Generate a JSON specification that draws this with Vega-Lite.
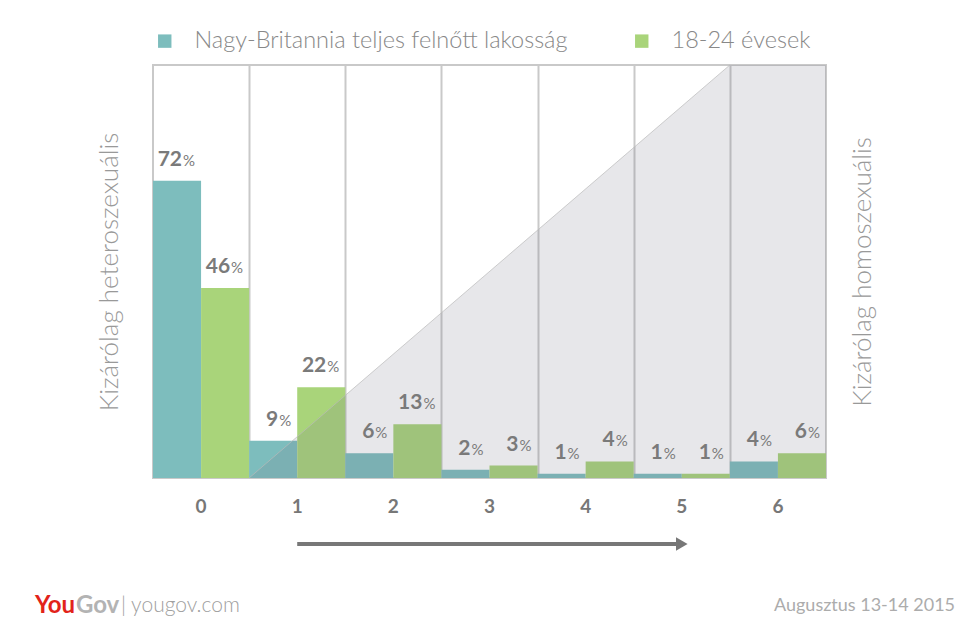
{
  "$schema": "https://vega.github.io/schema/vega-lite/v6.json",
  "width": 673,
  "height": 413,
  "autosize": "none",
  "padding": {"left": 153, "top": 65, "right": 145, "bottom": 152},
  "background": "white",
  "datasets": {
    "bars": [
      {"cat": "0", "group": "Nagy-Britannia teljes felnőtt lakosság", "pct": 72},
      {"cat": "0", "group": "18-24 évesek", "pct": 46},
      {"cat": "1", "group": "Nagy-Britannia teljes felnőtt lakosság", "pct": 9},
      {"cat": "1", "group": "18-24 évesek", "pct": 22},
      {"cat": "2", "group": "Nagy-Britannia teljes felnőtt lakosság", "pct": 6},
      {"cat": "2", "group": "18-24 évesek", "pct": 13},
      {"cat": "3", "group": "Nagy-Britannia teljes felnőtt lakosság", "pct": 2},
      {"cat": "3", "group": "18-24 évesek", "pct": 3},
      {"cat": "4", "group": "Nagy-Britannia teljes felnőtt lakosság", "pct": 1},
      {"cat": "4", "group": "18-24 évesek", "pct": 4},
      {"cat": "5", "group": "Nagy-Britannia teljes felnőtt lakosság", "pct": 1},
      {"cat": "5", "group": "18-24 évesek", "pct": 1},
      {"cat": "6", "group": "Nagy-Britannia teljes felnőtt lakosság", "pct": 4},
      {"cat": "6", "group": "18-24 évesek", "pct": 6}
    ],
    "shade": [
      {"x": 1, "y": 0},
      {"x": 6, "y": 100},
      {"x": 7, "y": 100}
    ],
    "one": [{}]
  },
  "layer": [
    {
      "data": {"name": "bars"},
      "mark": {"type": "bar"},
      "encoding": {
        "x": {
          "field": "cat",
          "type": "nominal",
          "scale": {"paddingInner": 0, "paddingOuter": 0},
          "axis": {
            "title": null,
            "labelAngle": 0,
            "domain": false,
            "ticks": false,
            "grid": false,
            "labelFont": "Lato",
            "labelFontWeight": "bold",
            "labelFontSize": 19,
            "labelColor": "#777777",
            "labelPadding": 19
          }
        },
        "xOffset": {
          "field": "group",
          "scale": {"domain": ["Nagy-Britannia teljes felnőtt lakosság", "18-24 évesek"], "paddingInner": 0}
        },
        "y": {
          "field": "pct",
          "type": "quantitative",
          "scale": {"domain": [0, 100]},
          "axis": {
            "orient": "left",
            "title": "Kizárólag heteroszexuális",
            "titleFont": "Lato",
            "titleFontSize": 26,
            "titleFontWeight": 300,
            "titleColor": "#999999",
            "titlePadding": 31,
            "labels": false,
            "ticks": false,
            "domain": false,
            "grid": false
          }
        },
        "color": {
          "field": "group",
          "type": "nominal",
          "scale": {
            "domain": ["Nagy-Britannia teljes felnőtt lakosság", "18-24 évesek"],
            "range": ["#7dbdbd", "#a9d47a"]
          },
          "legend": {
            "title": null,
            "orient": "top",
            "direction": "horizontal",
            "padding": 0,
            "symbolType": "square",
            "symbolSize": 180,
            "symbolStrokeWidth": 0,
            "labelFont": "Lato",
            "labelFontSize": 23.5,
            "labelFontWeight": 300,
            "labelColor": "#888888",
            "labelLimit": 600,
            "labelOffset": 18,
            "columnPadding": 62,
            "offset": 12
          }
        }
      }
    },
    {
      "data": {"name": "shade"},
      "mark": {"type": "area", "color": "#6e7380", "opacity": 0.17},
      "encoding": {
        "x": {
          "field": "x",
          "type": "quantitative",
          "scale": {"domain": [0, 7], "nice": false},
          "axis": {
            "title": null,
            "values": [1, 2, 3, 4, 5, 6],
            "grid": true,
            "gridColor": "#c9c9c9",
            "gridWidth": 2,
            "labels": false,
            "ticks": false,
            "domain": false
          }
        },
        "y": {
          "field": "y",
          "type": "quantitative",
          "scale": {"domain": [0, 100]},
          "axis": {
            "orient": "right",
            "title": "Kizárólag homoszexuális",
            "titleAngle": 270,
            "titleFont": "Lato",
            "titleFontSize": 26,
            "titleFontWeight": 300,
            "titleColor": "#999999",
            "titlePadding": 49,
            "labels": false,
            "ticks": false,
            "domain": false,
            "grid": false
          }
        }
      }
    },
    {
      "data": {"name": "shade"},
      "transform": [{"filter": "datum.x <= 6"}],
      "mark": {"type": "line", "color": "#bbbbbb", "strokeWidth": 1, "opacity": 0.7},
      "encoding": {
        "x": {"field": "x", "type": "quantitative", "scale": {"domain": [0, 7], "nice": false}, "axis": null},
        "y": {"field": "y", "type": "quantitative", "scale": {"domain": [0, 100]}, "axis": null}
      }
    },
    {
      "data": {"name": "one"},
      "encoding": {
        "x": {"datum": 1.5, "type": "quantitative", "scale": {"domain": [0, 7], "nice": false}, "axis": null},
        "y": {"datum": -16, "type": "quantitative", "scale": {"domain": [0, 100]}, "axis": null}
      },
      "layer": [
        {
          "mark": {"type": "rule", "color": "#777777", "strokeWidth": 4},
          "encoding": {"x2": {"datum": 5.45}}
        },
        {
          "mark": {"type": "point", "shape": "triangle-right", "filled": true, "color": "#777777", "size": 180, "opacity": 1},
          "encoding": {
            "x": {"datum": 5.5, "type": "quantitative", "scale": {"domain": [0, 7], "nice": false}, "axis": null}
          }
        },
        {
          "mark": {"type": "text", "text": "You", "align": "left", "baseline": "middle", "font": "Lato", "fontSize": 24, "fontWeight": "bold", "color": "#e2231a"},
          "encoding": {
            "x": {"datum": -1.228, "type": "quantitative", "scale": {"domain": [0, 7], "nice": false}, "axis": null},
            "y": {"datum": -31, "type": "quantitative", "scale": {"domain": [0, 100]}, "axis": null}
          }
        },
        {
          "mark": {"type": "text", "text": "Gov", "align": "left", "baseline": "middle", "font": "Lato", "fontSize": 24, "fontWeight": "bold", "color": "#b3b3b3", "dx": 41},
          "encoding": {
            "x": {"datum": -1.228, "type": "quantitative", "scale": {"domain": [0, 7], "nice": false}, "axis": null},
            "y": {"datum": -31, "type": "quantitative", "scale": {"domain": [0, 100]}, "axis": null}
          }
        },
        {
          "mark": {"type": "text", "text": "| yougov.com", "align": "left", "baseline": "middle", "font": "Lato", "fontSize": 21, "fontWeight": 300, "color": "#a0a0a0", "dx": 86},
          "encoding": {
            "x": {"datum": -1.228, "type": "quantitative", "scale": {"domain": [0, 7], "nice": false}, "axis": null},
            "y": {"datum": -31, "type": "quantitative", "scale": {"domain": [0, 100]}, "axis": null}
          }
        },
        {
          "mark": {"type": "text", "text": "Augusztus 13-14 2015", "align": "right", "baseline": "middle", "font": "Lato", "fontSize": 18, "fontWeight": "normal", "color": "#acacac"},
          "encoding": {
            "x": {"datum": 8.342, "type": "quantitative", "scale": {"domain": [0, 7], "nice": false}, "axis": null},
            "y": {"datum": -31, "type": "quantitative", "scale": {"domain": [0, 100]}, "axis": null}
          }
        }
      ]
    },
    {
      "data": {"name": "bars"},
      "encoding": {
        "x": {"field": "cat", "type": "nominal", "scale": {"paddingInner": 0, "paddingOuter": 0}, "axis": null},
        "xOffset": {
          "field": "group",
          "scale": {"domain": ["Nagy-Britannia teljes felnőtt lakosság", "18-24 évesek"], "paddingInner": 0}
        },
        "y": {"field": "pct", "type": "quantitative", "scale": {"domain": [0, 100]}, "axis": null}
      },
      "layer": [
        {
          "mark": {"type": "text", "align": "right", "baseline": "alphabetic", "dx": 5, "dy": -15, "font": "Lato", "fontSize": 21, "fontWeight": "bold", "color": "#7a7a7a"},
          "encoding": {"text": {"field": "pct", "type": "quantitative"}}
        },
        {
          "mark": {"type": "text", "text": "%", "align": "left", "baseline": "alphabetic", "dx": 6, "dy": -15, "font": "Lato", "fontSize": 15, "color": "#7a7a7a"}
        }
      ]
    }
  ],
  "resolve": {
    "scale": {"x": "independent", "xOffset": "independent"},
    "axis": {"x": "independent", "y": "independent"}
  },
  "config": {
    "view": {"stroke": "#c9c9c9", "strokeWidth": 2},
    "font": "Lato"
  }
}
